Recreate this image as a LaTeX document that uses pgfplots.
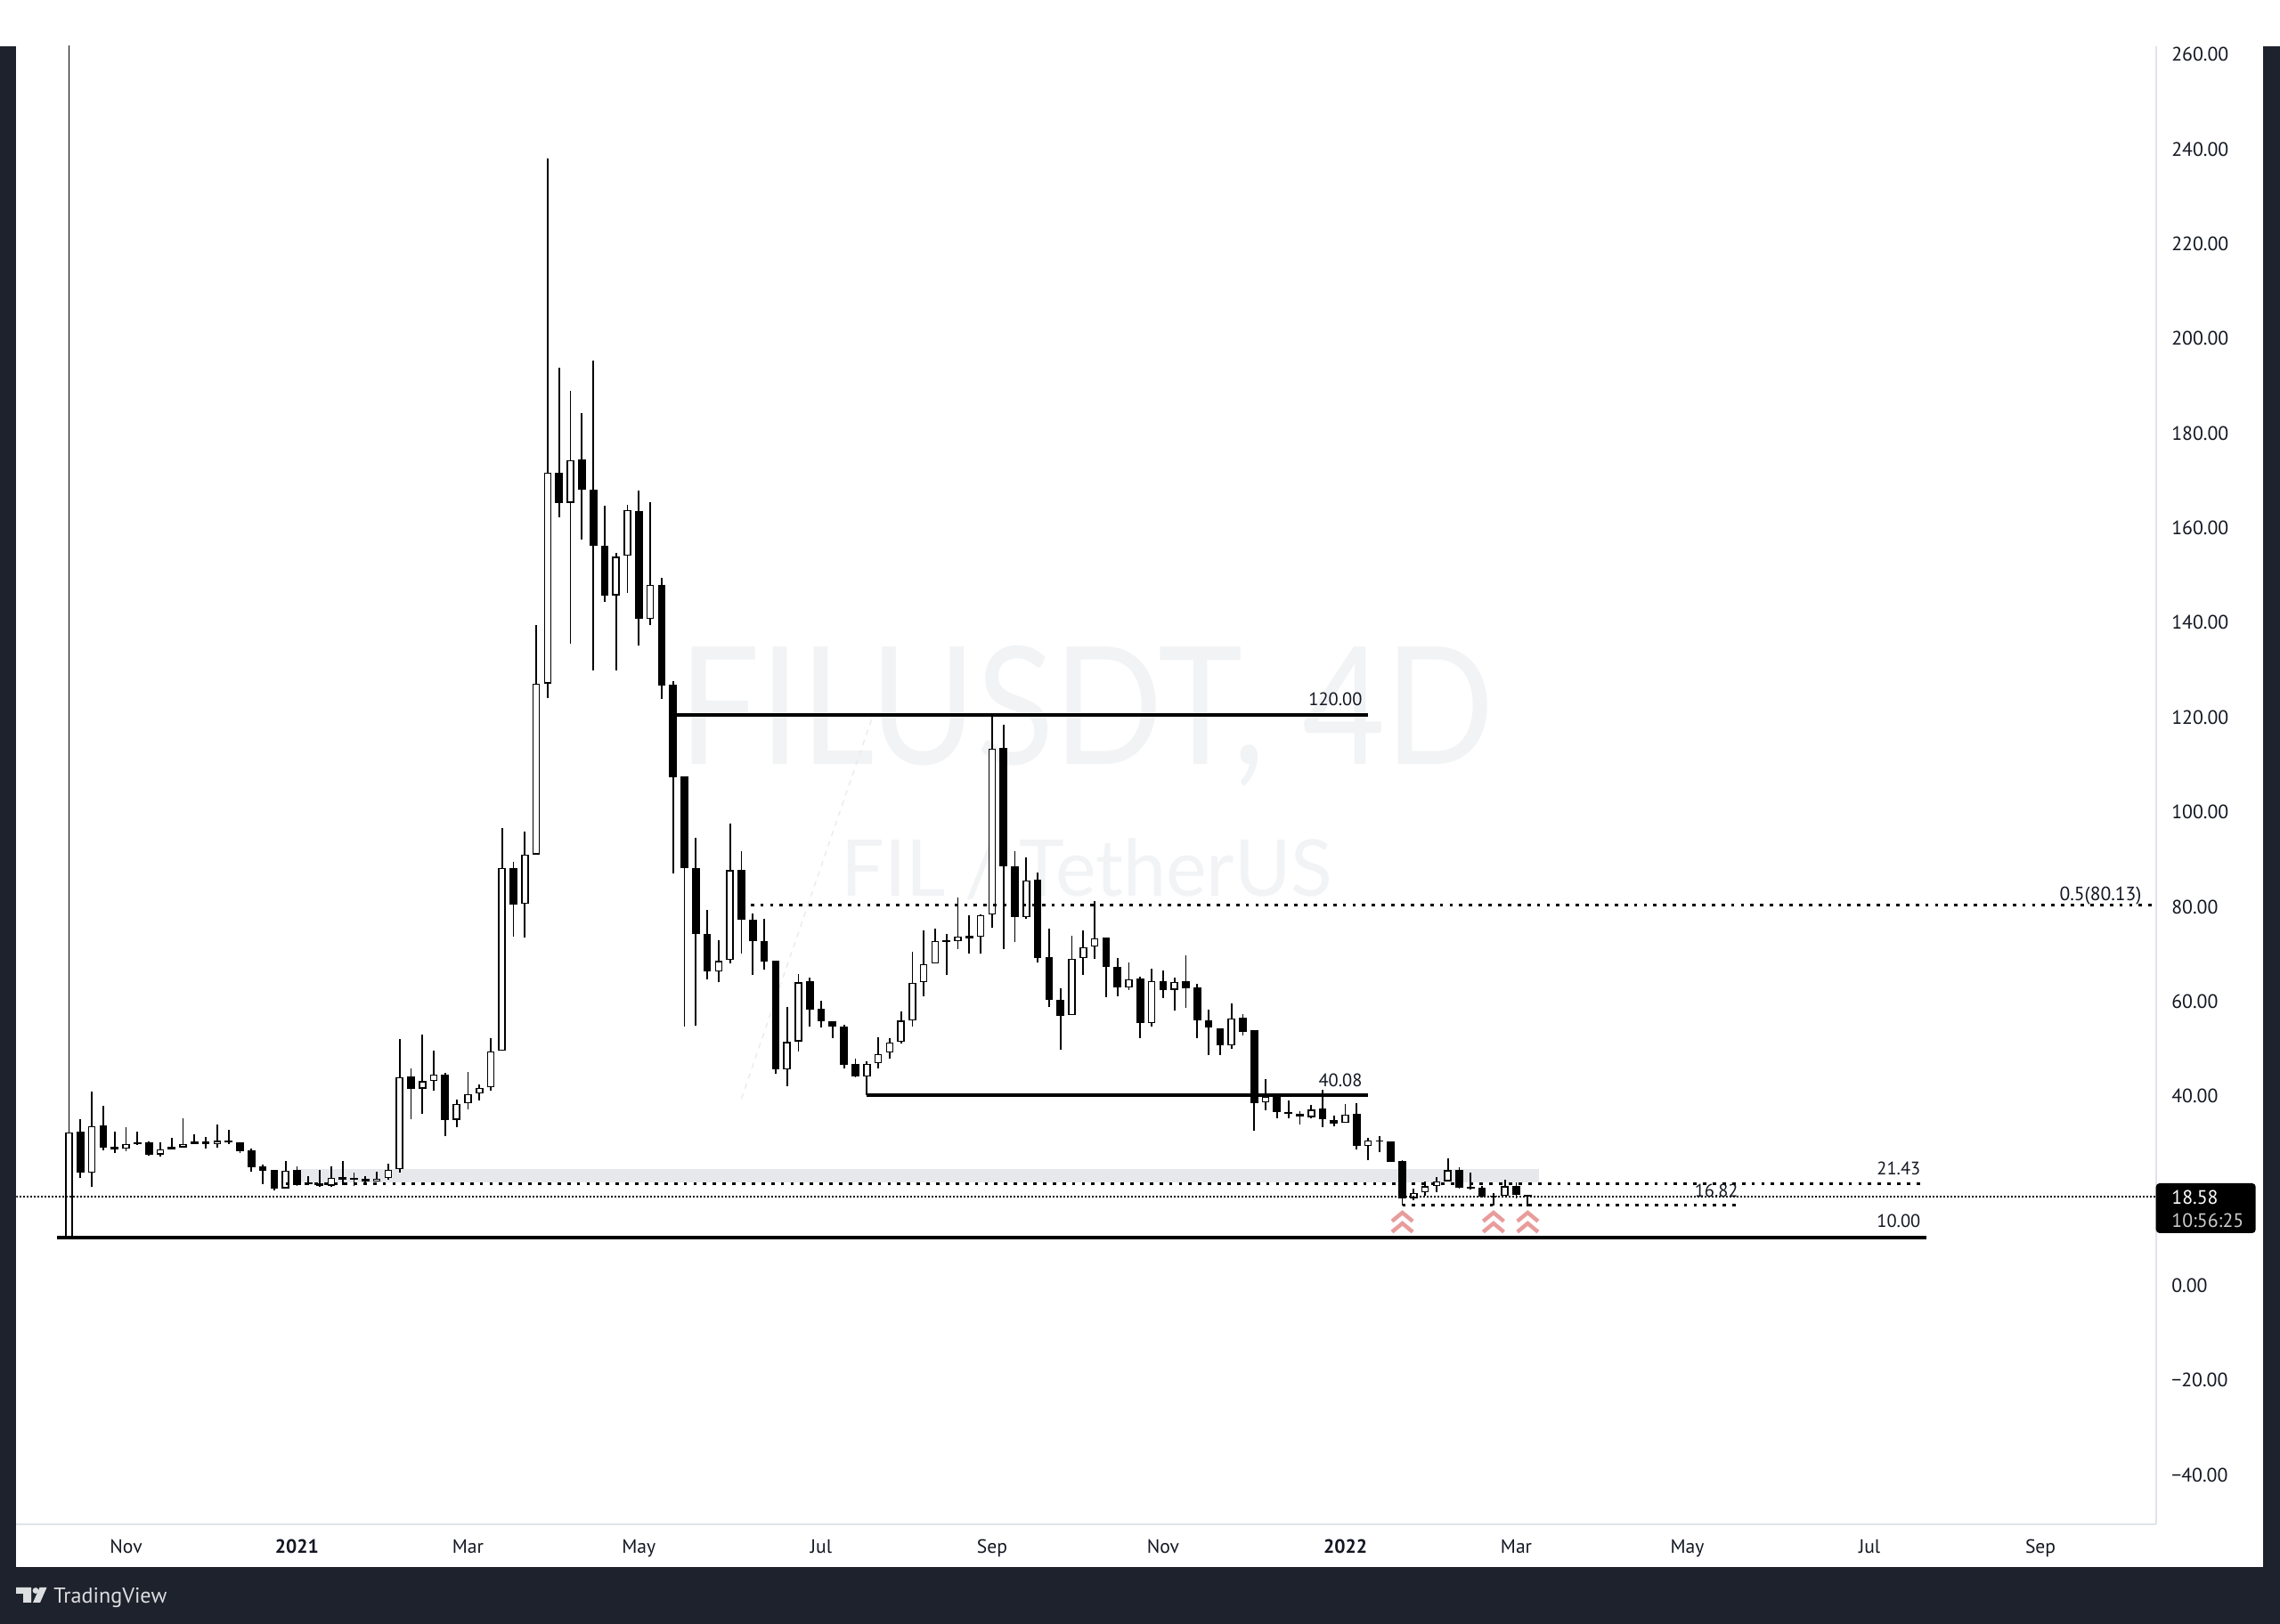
\documentclass[border=0pt]{standalone}
\usepackage{fontspec}
\setmainfont{PT Sans}
\newfontfamily\wmfont{Lato}
\usepackage{pgfplots}
\usepackage{pgfplotstable}
\pgfplotsset{compat=1.18}
\definecolor{sidebar}{HTML}{1E222D}
\definecolor{axline}{HTML}{E0E3EB}
\definecolor{ink}{HTML}{131722}
\definecolor{zone}{HTML}{E7E8EC}
\definecolor{wm}{HTML}{F1F3F5}
\definecolor{chev}{HTML}{E89C9C}
\pgfdeclareplotmark{chevron2}{%
  \pgfsetlinewidth{2.2pt}\pgfsetmiterjoin
  \pgfpathmoveto{\pgfqpoint{-5.8pt}{0.6pt}}\pgfpathlineto{\pgfqpoint{0pt}{5.4pt}}\pgfpathlineto{\pgfqpoint{5.8pt}{0.6pt}}
  \pgfpathmoveto{\pgfqpoint{-5.8pt}{-5.4pt}}\pgfpathlineto{\pgfqpoint{0pt}{-0.6pt}}\pgfpathlineto{\pgfqpoint{5.8pt}{-5.4pt}}
  \pgfusepathqstroke}
\pgfplotstableread{
i o c h l
0 10 32.2 265 10
2 23.6 33.5 40.8 20.6
5 28.7 29.8 33.3 28.3
8 27.5 28.65 30.1 27.1
10 29.0 29.8 35.2 28.9
13 29.8 30.4 33.8 29.0
19 20.4 24.1 26.1 20.3
23 20.9 22.6 25.0 20.75
27 21.9 22.4 23.9 21.75
28 22.5 24.3 25.5 22.2
29 24.4 43.9 51.85 23.76
31 41.4 43.0 52.85 36.1
32 43.07 44.45 49.4 41.0
34 34.85 38.2 39.2 33.35
35 38.3 40.3 44.95 37.05
36 40.4 41.6 42.4 39.0
37 41.7 49.3 52.1 41.0
38 49.4 88.05 96.5 49.4
40 80.4 90.9 95.8 73.4
41 90.9 127 139.3 90.9
42 127 171.6 237.9 124
44 165.2 174.2 188.9 135.4
48 145.6 153.8 154.6 129.8
49 154 163.6 164.8 146.1
51 140.6 147.8 165.3 139.3
57 66.2 68.4 72.7 63.9
58 68.55 87.6 97.5 67.8
63 45.45 51.3 58.7 42
64 51.4 63.9 65.6 49.3
70 44.0 46.7 47.2 40.08
71 46.8 48.8 52.3 45.7
72 49 51.2 52.1 47.7
73 51.35 55.8 57.8 51
74 55.8 63.8 70.3 54.6
75 63.9 67.7 74.9 60.9
76 67.9 72.6 75.3 67.9
78 72.6 73.6 81.85 70.9
80 73.5 78.1 78.3 69.9
81 78.2 113.3 119.9 75.5
84 77.6 85.4 90.2 77.2
88 57 68.9 73.7 57
89 69 71.3 74.8 65.45
90 71.4 73.2 81 68.9
93 62.75 64.5 68.1 62.3
95 55.25 64.2 66.7 54.6
97 62.3 64 64.8 58
102 50.5 56.3 59.4 49.8
105 38.5 39.75 43.4 36.9
109 35.4 37 37.9 35.2
112 34.2 36 38.1 34.2
114 29.3 30.5 31 26.4
118 18.3 19.4 20.4 17.8
119 19.5 20.8 21.9 18.75
120 20.8 21.9 22.8 19.6
121 21.9 24.2 26.7 21.8
126 18.8 20.8 22.2 18.75
}\upcandles
\pgfplotstableread{
i o c h l
1 32.3 23.6 34.9 22.6
3 33.66 29.0 37.8 28.4
4 29.1 28.6 32.3 27.9
6 30.0 29.7 32.3 29.6
7 30.1 27.45 30.2 27.3
9 29.1 28.65 31.0 28.5
11 30.3 29.8 31.8 29.8
12 30.2 29.8 31.2 28.8
14 30.4 30.0 32.7 29.8
15 30.1 28.3 30.15 27.9
16 28.4 24.9 28.8 23.8
17 24.95 24.1 25.4 21.25
18 24.26 20.3 24.26 20.0
20 24.2 21.1 25.0 20.9
21 21.56 21.25 22.9 21.0
22 21.5 20.8 24.26 20.75
24 22.7 22.1 26.1 21.1
25 22.5 22.2 23.6 20.8
26 22.4 21.9 22.9 21.1
30 43.95 41.4 45.7 34.9
33 44.45 34.85 44.7 31.4
39 88.1 80.3 89.4 73.6
43 171.6 165.2 193.7 162.1
45 174.35 168 184.1 157.4
46 168 156 195.3 129.8
47 156 145.6 164.6 144.3
50 163.4 140.6 167.8 135
52 147.8 126.55 149.3 123.7
53 126.7 107.2 127.5 86.9
54 107.3 88.1 107.4 54.6
55 88.1 74.15 94.4 54.7
56 74.15 66.15 79.2 64.5
59 87.6 77.1 91.6 69.9
60 77.1 72.5 78.5 65.4
61 72.5 68.25 77.2 66.5
62 68.4 45.6 68.4 44.5
65 64.06 58.2 64.9 54.6
66 58.3 55.6 60 54.3
67 55.6 54.6 55.7 52.1
68 54.6 46.5 54.9 45.7
69 46.6 44 47.7 43.9
77 72.7 72.4 74.15 65.4
79 73.8 73.2 78.1 69.9
82 113.4 88.4 118.3 70.9
83 88.4 77.7 91.6 72.4
85 85.6 69.1 87.1 68
86 69.2 60.1 75.3 58.6
87 60.2 56.8 62.7 49.7
91 73.4 67.15 73.4 60.75
92 67.15 62.75 69 61
94 64.6 55.25 65.1 52
96 64.2 62.25 66.4 60.6
98 64.1 62.6 69.5 58.55
99 62.75 55.9 63.5 52
100 55.9 54.3 58.05 48.6
101 54.2 50.5 54.2 48.6
103 56.4 53.5 57.1 52.6
104 53.7 38.4 53.7 32.5
106 40.2 36.55 40.4 35.2
107 36.55 36.2 38.9 35.2
108 36.2 35.5 36.6 33.8
110 37.2 34.9 41.2 33.3
111 34.8 34.1 35.7 33.4
113 36.05 29.25 38.3 28.5
115 30.5 30.3 31.4 28
116 30.2 26 30.2 26
117 26.1 18.3 26.4 16.8
122 24.3 20.5 24.8 20.4
123 20.7 20.3 23.6 20.1
124 20.5 18.55 20.8 18.4
125 18.87 18.55 19.4 16.7
127 20.8 18.9 21.6 18.2
128 18.9 18.58 19.05 16.5
}\downcandles
\pgfplotsset{
  wickbar/.style={draw=none,mark=none,forget plot,
    error bars/.cd,y dir=plus,y explicit,error mark=none,
    error bar style={draw=#1,solid,line width=0.9pt}},
  bodybar/.style n args={2}{draw=none,mark=none,forget plot,
    error bars/.cd,y dir=plus,y explicit,error mark=none,
    error bar style={draw=#1,solid,line width=#2}},
  dotline/.style={black,line width=1.5pt,dash pattern=on 1.9pt off 3.55pt,forget plot},
  solidline/.style={black,line width=2pt,forget plot},
}
\begin{document}
\begin{tikzpicture}
\path[use as bounding box,fill=white] (0,0) rectangle (1280pt,912pt);
\begin{axis}[
  at={(9.2pt,56pt)},anchor=south west,scale only axis,
  width=1201.15pt,height=830pt,
  xmin=-4.627,xmax=183.13,ymin=-50.59,ymax=261.6,
  axis y line*=right,axis x line*=bottom,
  axis line style={-,draw=axline,line width=0.9pt},
  tick style={draw=none},major tick length=0pt,
  xtick={5,20,35,50,66,81,96,112,127,142,158,173},
  xticklabels={Nov,\textbf{2021},Mar,May,Jul,Sep,Nov,\textbf{2022},Mar,May,Jul,Sep},
  xticklabel style={anchor=base,yshift=-16.5pt,inner sep=0pt,font=\fontsize{10.8}{12}\selectfont,text=ink},
  ytick={-40,-20,0,20,40,60,80,100,120,140,160,180,200,220,240,260},
  yticklabels={−40.00,−20.00,0.00,20.00,40.00,60.00,80.00,100.00,120.00,140.00,160.00,180.00,200.00,220.00,240.00,260.00},
  yticklabel style={anchor=west,xshift=8.6pt,yshift=-0.4pt,inner sep=0pt,font=\fontsize{10.9}{12}\selectfont,text=ink},
]
% watermark
\node[text=wm,inner sep=0pt] at (axis cs:89.3,120.2) {\scalebox{0.875}[1]{\wmfont\fontsize{92}{92}\selectfont FILUSDT, 4D}};
\node[text=wm,inner sep=0pt] at (axis cs:89.3,87.8) {\scalebox{0.98}[1]{\wmfont\fontsize{44}{44}\selectfont FIL / TetherUS}};
% faint diagonal
\addplot[color=axline!70,line width=0.7pt,dashed,forget plot] coordinates {(59,39.3) (70.5,120)};
% zone
\addplot[draw=none,fill=zone,forget plot] coordinates {(20,21.6) (129,21.6) (129,24.45) (20,24.45)} -- cycle;
% candles: wicks, then bodies
\addplot[wickbar=black] table[x=i,y=l,y error plus expr=\thisrow{h}-\thisrow{l},y error minus expr=0]{\upcandles};
\addplot[wickbar=black] table[x=i,y=l,y error plus expr=\thisrow{h}-\thisrow{l},y error minus expr=0]{\downcandles};
\addplot[bodybar={black}{4.35pt}] table[x=i,y=c,y error plus expr=\thisrow{o}-\thisrow{c},y error minus expr=0]{\downcandles};
\addplot[bodybar={black}{4.3pt}] table[x=i,y=o,y error plus expr=\thisrow{c}-\thisrow{o},y error minus expr=0]{\upcandles};
\addplot[bodybar={white}{2.7pt}] table[x=i,y expr=\thisrow{o}+0.26,y error plus expr=\thisrow{c}-\thisrow{o}-0.52,y error minus expr=0]{\upcandles};
% drawn levels
\addplot[solidline] coordinates {(53,120.4) (114,120.4)};
\addplot[black,line width=1.7pt,forget plot] coordinates {(70,40.08) (114,40.08)};
\addplot[solidline] coordinates {(-1.06,10) (163,10)};
\addplot[dotline] coordinates {(59.8,80.13) (183.13,80.13)};
\addplot[dotline] coordinates {(19,21.43) (162.8,21.43)};
\addplot[dotline] coordinates {(117,16.75) (146.7,16.75)};
\addplot[black,line width=0.8pt,dash pattern=on 1pt off 1pt,forget plot] coordinates {(-4.627,18.6) (183.13,18.6)};
\addplot[only marks,mark=chevron2,mark options={draw=chev},forget plot] coordinates {(117,13.2) (125,13.2) (128,13.2)};
% labels
\tikzset{lvl/.style={anchor=east,inner sep=0pt,text=ink,font=\fontsize{10.2}{11}\selectfont}}
\node[lvl] at (axis cs:113.5,123.75) {120.00};
\node[lvl] at (axis cs:113.5,43.26) {40.08};
\node[lvl] at (axis cs:162.5,24.5) {21.43};
\node[lvl] at (axis cs:162.5,13.4) {10.00};
\node[lvl] at (axis cs:146.5,19.9) {16.82};
\node[lvl,font=\fontsize{10.8}{11}\selectfont] at (axis cs:181.9,82.2) {0.5(80.13)};
\end{axis}
% chart chrome, in px measured from the top left of the page
\begin{scope}[x=0.5pt,y=-0.5pt,shift={(0pt,912pt)}]
\fill[sidebar] (0,52) rectangle (18.4,1824);
\fill[sidebar] (2541,52) rectangle (2560,1824);
\fill[sidebar] (0,1760) rectangle (2560,1824);
\fill[black,rounded corners=2pt] (2420.7,1329) rectangle (2532.7,1385);
\node[anchor=west,inner sep=0pt,text=white,font=\fontsize{10.9}{12}\selectfont] at (2438,1345) {18.58};
\node[anchor=west,inner sep=0pt,text=black!20,font=\fontsize{10.9}{12}\selectfont] at (2438,1371) {10:56:25};
% TradingView logo
\fill[white!85!sidebar] (18,1783) -- (35,1783) -- (35,1800) -- (26,1800) -- (26,1790) -- (18,1790) -- cycle;
\fill[white!85!sidebar] (40,1786.5) circle[radius=3.4];
\fill[white!85!sidebar] (44.5,1783) -- (52.5,1783) -- (45,1800) -- (37,1800) -- cycle;
\node[anchor=west,inner sep=0pt,text=white!85!sidebar,font=\fontsize{12.1}{13}\selectfont] at (60,1794.5) {TradingView};
\end{scope}
\end{tikzpicture}
\end{document}
